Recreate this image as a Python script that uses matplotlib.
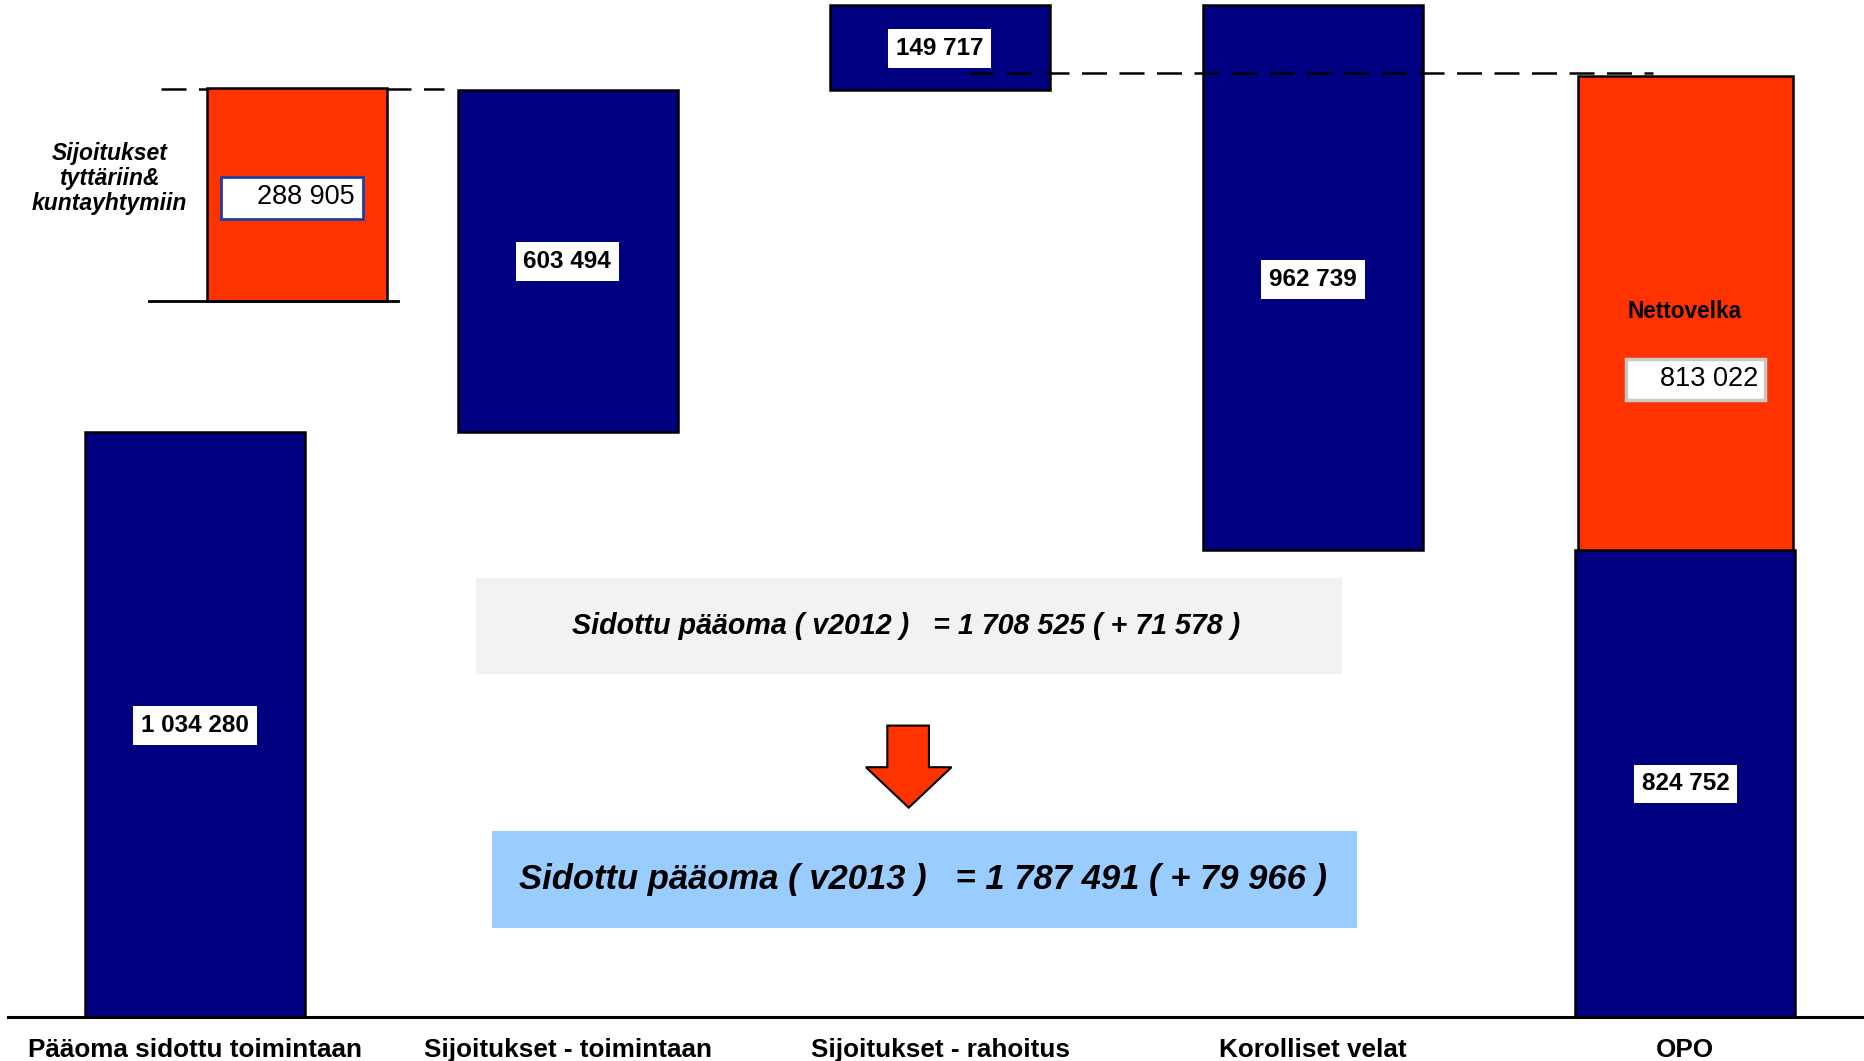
import matplotlib
matplotlib.use("Agg")
import matplotlib.pyplot as plt
from matplotlib.patches import Rectangle, Polygon

plt.rcParams['font.family'] = ['Liberation Sans', 'DejaVu Sans']

# ---------------- data ----------------
categories = ["Pääoma sidottu toimintaan", "Sijoitukset - toimintaan",
              "Sijoitukset - rahoitus", "Korolliset velat", "OPO"]
# waterfall steps (positive up, negative down)
steps = [1034280, 603494, 149717, -962739]
step_labels = ["1 034 280", "603 494", "149 717", "962 739"]
opo_value = 824752
opo_label = "824 752"
netto_label_value = "813 022"
netto_drawn_height = 838000          # drawn height of the Nettovelka block (as in picture)
sub_label_value = "288 905"
sub_drawn_height = 376000            # drawn height of the subsidiaries block (as in picture)
summary_2012 = "Sidottu pääoma ( v2012 )   = 1 708 525 ( + 71 578 )"
summary_2013 = "Sidottu pääoma ( v2013 )   = 1 787 491 ( + 79 966 )"

NAVY = "#000080"
RED = "#FF3300"

W, H = 1568.0, 892.0
def fx(px): return px / W
def fy(py): return 1 - py / H

fig = plt.figure(figsize=(18.65, 10.61), dpi=100)
ax = fig.add_axes([0, 0, 1, 1])
ax.set_xlim(-0.5235, 4.482)
ax.set_ylim(-77774, 1797210)
ax.axis('off')

bw = 0.59
# waterfall bars
cum = 0
for i, v in enumerate(steps):
    if v >= 0:
        bottom, h = cum, v
    else:
        bottom, h = cum + v, -v
    ax.bar(i, h, bottom=bottom, width=bw, color=NAVY, edgecolor='black', linewidth=1.8, zorder=3)
    cum += v
# OPO
ax.bar(4, opo_value, bottom=0, width=bw, color=NAVY, edgecolor='black', linewidth=1.8, zorder=3)
ax.bar(4, netto_drawn_height, bottom=opo_value, width=0.575, color=RED, edgecolor='black',
       linewidth=1.8, zorder=3)

# subsidiaries block (orange) at the top of first two steps
level2 = steps[0] + steps[1]
ax.bar(0.273, sub_drawn_height, bottom=level2 - sub_drawn_height + 4000, width=0.482,
       color=RED, edgecolor='black', linewidth=1.8, zorder=4)
# solid line under orange block
ax.plot([fx(125), fx(335)], [fy(253), fy(253)], transform=fig.transFigure, color='black',
        lw=2, zorder=5)
# dashed line at top of orange block
ax.plot([fx(135), fx(373)], [fy(75), fy(75)], transform=fig.transFigure, color='black',
        lw=1.8, dashes=(10, 5), zorder=2)
# dashed line right
ax.plot([fx(815), fx(1390)], [fy(61), fy(61)], transform=fig.transFigure, color='black',
        lw=1.8, dashes=(10, 5), zorder=5)

# baseline
ax.plot([fx(7), fx(1568)], [fy(855), fy(855)], transform=fig.transFigure, color='black',
        lw=2.2, zorder=6)

# value labels (bold white boxes)
label_px = [(164, 610), (477, 220), (790, 41), (1104, 235)]
for (px, py), t in zip(label_px, step_labels):
    fig.text(fx(px), fy(py), t, ha='center', va='center', fontsize=17.5, fontweight='bold',
             bbox=dict(boxstyle='square,pad=0.32', fc='white', ec='none'), zorder=10)
fig.text(fx(1417), fy(659), opo_label, ha='center', va='center', fontsize=17.5,
         fontweight='bold', bbox=dict(boxstyle='square,pad=0.32', fc='white', ec='none'), zorder=10)

# Nettovelka
fig.text(fx(1416), fy(262), "Nettovelka", ha='center', va='center', fontsize=16.3,
         fontweight='bold', zorder=10)
fig.patches.append(Rectangle((fx(1367), fy(336)), fx(1484) - fx(1367), fy(302) - fy(336),
                             transform=fig.transFigure, fc='white', ec='#C8C8C8', lw=2.5, zorder=9))
fig.text(fx(1478), fy(319), netto_label_value, ha='right', va='center', fontsize=19.5, zorder=10)

# subsidiaries box + label
fig.patches.append(Rectangle((fx(186), fy(184)), fx(305) - fx(186), fy(149) - fy(184),
                             transform=fig.transFigure, fc='white', ec='#1F3FA0', lw=2, zorder=9))
fig.text(fx(298), fy(166), sub_label_value, ha='right', va='center', fontsize=19.5, zorder=10)
fig.text(fx(92), fy(150), "Sijoitukset\ntyttäriin&\nkuntayhtymiin", ha='center', va='center',
         fontsize=16.5, fontweight='bold', fontstyle='italic', linespacing=1.1, zorder=10)

# summary boxes
fig.patches.append(Rectangle((fx(400), fy(567)), fx(1128) - fx(400), fy(486) - fy(567),
                             transform=fig.transFigure, fc='#F2F2F2', ec='none', zorder=1))
fig.text(fx(762), fy(526), summary_2012, ha='center', va='center', fontsize=20.6,
         fontweight='bold', fontstyle='italic', zorder=10)
fig.patches.append(Rectangle((fx(414), fy(780)), fx(1141) - fx(414), fy(699) - fy(780),
                             transform=fig.transFigure, fc='#99CCFF', ec='none', zorder=1))
fig.text(fx(776), fy(739), summary_2013, ha='center', va='center', fontsize=24.9,
         fontweight='bold', fontstyle='italic', zorder=10)

# arrow
arrow_pts = [(746, 610), (781, 610), (781, 645), (800, 645), (764, 679), (728, 645), (746, 645)]
fig.patches.append(Polygon([(fx(a), fy(b)) for a, b in arrow_pts], closed=True,
                           transform=fig.transFigure, fc=RED, ec='black', lw=1.5, zorder=8))

# category labels
for i, c in enumerate(categories):
    ax.text(i, (855 - 889) * 2102, c, ha='center', va='baseline', fontsize=18.8,
            fontweight='bold', zorder=10)

fig.savefig("out.png", dpi=100)
